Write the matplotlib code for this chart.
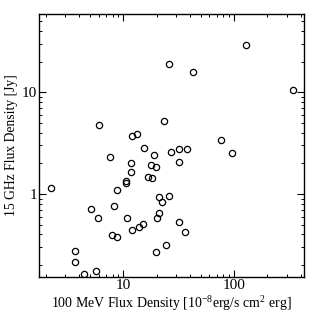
import matplotlib
matplotlib.use('Agg')
import matplotlib.pyplot as plt
from matplotlib.ticker import FuncFormatter, NullFormatter

# 100 MeV flux density (1e-8 erg/s cm^2 erg) vs 15 GHz flux density (Jy)
gamma_flux = [2.22, 5.14, 5.91, 3.68, 3.68, 4.41, 5.70, 7.64, 11.8, 11.7,
              16.7, 18.1, 10.5, 10.5, 8.71, 8.30, 10.7, 11.9, 14.0, 15.2,
              7.85, 8.77, 19.6, 20.9, 22.4, 25.7, 20.9, 20.3, 31.6, 36.1,
              24.2, 6.07, 11.9, 13.3, 23.4, 15.4, 18.8, 17.8, 19.7, 343,
              76.4, 95.3, 26.8, 31.8, 37.8, 31.8, 26.1, 42.7, 128]
radio_flux = [1.14, 0.707, 0.585, 0.273, 0.214, 0.163, 0.176, 2.31, 2.02, 1.65,
              1.48, 1.43, 1.35, 1.27, 1.09, 0.762, 0.577, 0.443, 0.471, 0.511,
              0.395, 0.380, 0.270, 0.928, 0.834, 0.949, 0.655, 0.581, 0.527, 0.420,
              0.313, 4.73, 3.74, 3.89, 5.22, 2.83, 2.42, 1.92, 1.83, 10.5,
              3.37, 2.51, 2.61, 2.77, 2.77, 2.06, 18.8, 16.0, 29.0]

plt.rcParams['font.family'] = 'Liberation Serif'
plt.rcParams['mathtext.fontset'] = 'custom'
plt.rcParams['mathtext.rm'] = 'Liberation Serif'
plt.rcParams['mathtext.default'] = 'regular'

fig = plt.figure(figsize=(3.15, 3.15), dpi=100)
ax = fig.add_axes([0.124, 0.12, 0.841, 0.836])

ax.plot(gamma_flux, radio_flux, 'o', mfc='none', mec='black', ms=4.5, mew=0.9)

ax.set_xscale('log')
ax.set_yscale('log')
ax.set_xlim(1.73, 430)
ax.set_ylim(0.152, 59)

fmt = FuncFormatter(lambda v, p: f'{v:g}')
for axis in (ax.xaxis, ax.yaxis):
    axis.set_major_formatter(fmt)
    axis.set_minor_formatter(NullFormatter())

ax.tick_params(which='both', direction='in', top=True, right=True, labelsize=11)
ax.tick_params(which='major', length=5, width=0.8, pad=1.5)
ax.tick_params(which='minor', length=2.5, width=0.7)
for s in ax.spines.values():
    s.set_linewidth(1.0)

ax.set_xlabel('100 MeV Flux Density [10$^{-8}$erg/s cm$^{2}$ erg]', fontsize=10, labelpad=1)
ax.set_ylabel('15 GHz Flux Density [Jy]', fontsize=9.8, labelpad=2.5)

fig.savefig('out.png', dpi=100)
